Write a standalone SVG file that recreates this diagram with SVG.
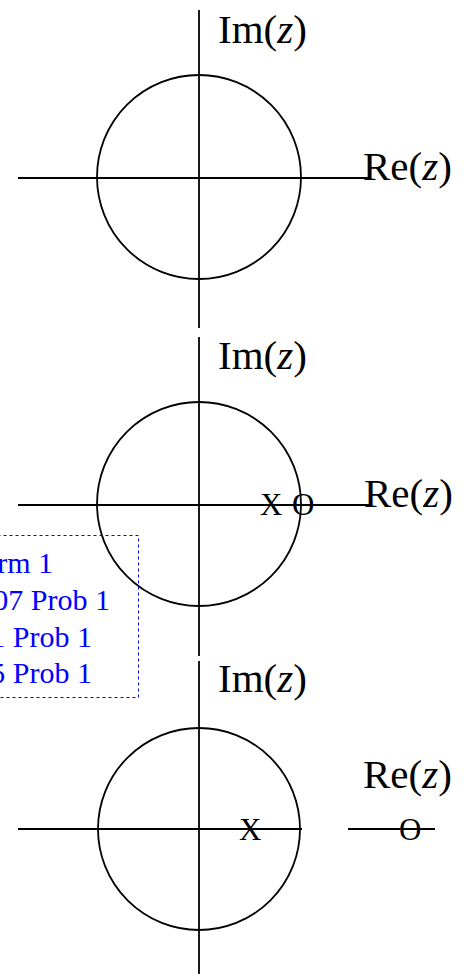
<svg xmlns="http://www.w3.org/2000/svg" width="464" height="974" viewBox="0 0 464 974">
<style>
.ax{stroke:#000;stroke-width:1.8;fill:none}
.c{stroke:#000;stroke-width:1.8;fill:none}
.lbl{font-family:"Liberation Serif","Times New Roman",serif;font-size:41px;fill:#000}
.mk{font-family:"Liberation Serif","Times New Roman",serif;font-size:31px;fill:#000}
.note{font-family:"Liberation Serif","Times New Roman",serif;font-size:30px;fill:#0000ff}
</style>
<rect width="464" height="974" fill="#fff"/>
<g id="connectors">
<line class="ax" x1="199" y1="10" x2="199" y2="328"/>
<line class="ax" x1="18" y1="178" x2="370" y2="178"/>
<line class="ax" x1="199" y1="337" x2="199" y2="656"/>
<line class="ax" x1="18" y1="505" x2="370" y2="505"/>
<line class="ax" x1="199" y1="661" x2="199" y2="974"/>
<line class="ax" x1="18" y1="829" x2="302" y2="829"/>
<line class="ax" x1="348" y1="829" x2="435" y2="829"/>
</g>
<g id="plane1">
<circle class="c" cx="199" cy="177" r="102"/>
<text class="lbl" x="218" y="43">Im(<tspan font-style="italic">z</tspan>)</text>
<text class="lbl" x="363" y="180">Re(<tspan font-style="italic">z</tspan>)</text>
</g>
<g id="plane2">
<circle class="c" cx="199" cy="504" r="102"/>
<text class="lbl" x="218" y="369">Im(<tspan font-style="italic">z</tspan>)</text>
<text class="lbl" x="364" y="507">Re(<tspan font-style="italic">z</tspan>)</text>
<text class="mk" x="260" y="515">X</text>
<text class="mk" x="292" y="515">O</text>
</g>
<g id="plane3">
<circle class="c" cx="199" cy="829" r="101"/>
<text class="lbl" x="218" y="692">Im(<tspan font-style="italic">z</tspan>)</text>
<text class="lbl" x="363" y="788">Re(<tspan font-style="italic">z</tspan>)</text>
<text class="mk" x="239" y="840">X</text>
<text class="mk" x="399" y="840">O</text>
</g>
<g id="note">
<rect x="-20.5" y="535.5" width="159" height="162" fill="none" stroke="#0000ff" stroke-width="1" stroke-dasharray="3,3"/>
<text class="note" x="53" y="573" text-anchor="end">rm 1</text>
<text class="note" x="110" y="610" text-anchor="end">07 Prob 1</text>
<text class="note" x="92" y="647" text-anchor="end">1 Prob 1</text>
<text class="note" x="92" y="683" text-anchor="end">5 Prob 1</text>
</g>
</svg>
